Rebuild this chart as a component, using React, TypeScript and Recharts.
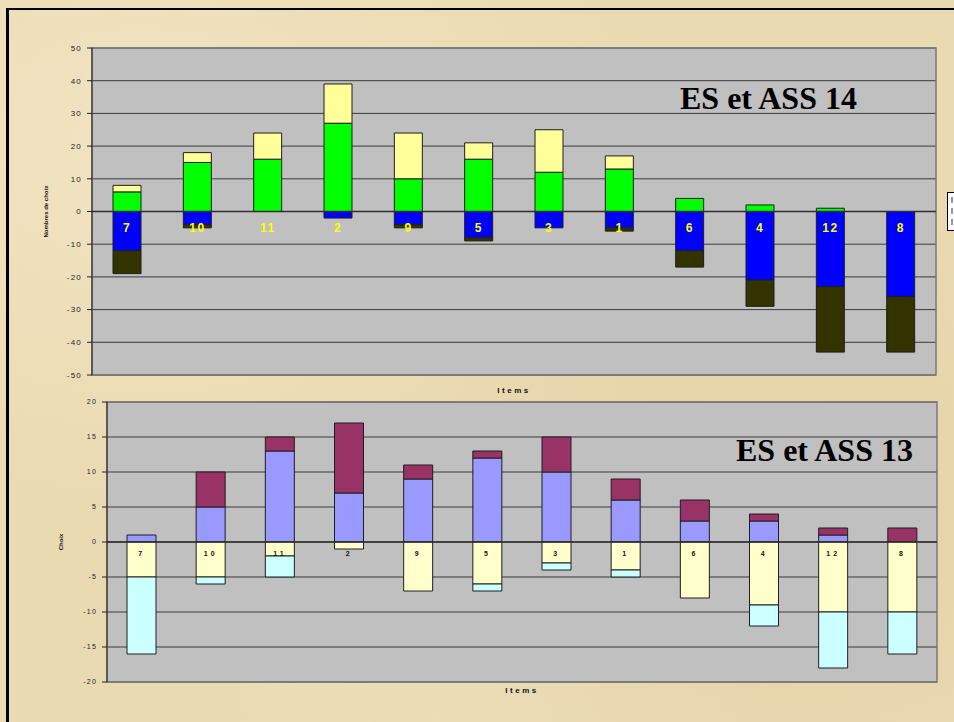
import React from 'react';
import {
  BarChart,
  Bar,
  XAxis,
  YAxis,
  CartesianGrid,
  ReferenceLine,
  ReferenceArea,
  ReferenceDot
} from 'recharts';

const items = ['7', '10', '11', '2', '9', '5', '3', '1', '6', '4', '12', '8'];

// ES et ASS 14
const green14 = [6, 15, 16, 27, 10, 16, 12, 13, 4, 2, 1, 0];
const yellow14 = [2, 3, 8, 12, 14, 5, 13, 4, 0, 0, 0, 0];
const blue14 = [-12, -4, 0, -2, -4, -8, -5, -5, -12, -21, -23, -26];
const dark14 = [-7, -1, 0, 0, -1, -1, 0, -1, -5, -8, -20, -17];
const ticks14 = [-50, -40, -30, -20, -10, 0, 10, 20, 30, 40, 50];

// ES et ASS 13
const lavender13 = [1, 5, 13, 7, 9, 12, 10, 6, 3, 3, 1, 0];
const maroon13 = [0, 5, 2, 10, 2, 1, 5, 3, 3, 1, 1, 2];
const cream13 = [-5, -5, -2, -1, -7, -6, -3, -4, -8, -9, -10, -10];
const cyan13 = [-11, -1, -3, 0, 0, -1, -1, -1, 0, -3, -8, -6];
const ticks13 = [-20, -15, -10, -5, 0, 5, 10, 15, 20];

const data14 = items.map((item, i) => ({
  item,
  green: green14[i],
  yellow: yellow14[i],
  blue: blue14[i],
  dark: dark14[i]
}));

const data13 = items.map((item, i) => ({
  item,
  lavender: lavender13[i],
  maroon: maroon13[i],
  cream: cream13[i],
  cyan: cyan13[i]
}));

const series14 = [
  { key: 'green', color: '#00ff00' },
  { key: 'yellow', color: '#ffff99' },
  { key: 'blue', color: '#0000ff' },
  { key: 'dark', color: '#333300' }
];

const series13 = [
  { key: 'lavender', color: '#9999ff' },
  { key: 'maroon', color: '#993366' },
  { key: 'cream', color: '#ffffcc' },
  { key: 'cyan', color: '#ccffff' }
];

const SANS = '"Liberation Sans", Arial, sans-serif';
const SERIF = '"Liberation Serif", "Times New Roman", serif';
const PAPER = '#eadab2';

interface PanelProps {
  data: any[];
  series: { key: string; color: string }[];
  ticks: number[];
  height: number;
  margin: { top: number; right: number; bottom: number; left: number };
  barSize: number;
  yLabel: string;
  yLabelSize: number;
  tickStyle: { fontSize: number; letterSpacing: number };
  xLabelOffset: number;
  itemLabel: { fill: string; fontSize: number; letterSpacing: number; offset: number };
}

const Panel: React.FC<PanelProps> = ({
  data, series, ticks, height, margin, barSize, yLabel, yLabelSize, tickStyle, xLabelOffset, itemLabel
}) => {
  const lo = ticks[0];
  const hi = ticks[ticks.length - 1];
  return (
    <BarChart width={954} height={height} data={data} margin={margin} stackOffset="sign" barSize={barSize}>
      <CartesianGrid vertical={false} stroke="#3a3a3a" fill="#c0c0c0" fillOpacity={1} />
      <ReferenceArea y1={lo} y2={hi} fill="none" stroke="#7a7a7a" strokeWidth={1.5} />
      <XAxis
        dataKey="item"
        axisLine={false}
        tickLine={false}
        tick={false}
        height={20}
        label={{
          value: 'Items',
          position: 'insideBottom',
          offset: xLabelOffset,
          fill: '#111',
          fontSize: 8,
          fontWeight: 700,
          fontFamily: SANS,
          letterSpacing: 2.5
        }}
      />
      <YAxis
        domain={[lo, hi]}
        ticks={ticks}
        interval={0}
        width={40}
        tickSize={5}
        tickMargin={5}
        axisLine={{ stroke: '#222' }}
        tickLine={{ stroke: '#222' }}
        tick={{ fill: '#222', fontFamily: SANS, ...tickStyle }}
        label={{
          value: yLabel,
          angle: -90,
          position: 'insideLeft',
          offset: -6,
          fill: '#111',
          fontSize: yLabelSize,
          fontWeight: 700,
          fontFamily: SANS,
          style: { textAnchor: 'middle' }
        }}
      />
      {series.map(s => (
        <Bar
          key={s.key}
          dataKey={s.key}
          stackId="s"
          fill={s.color}
          stroke="#1e1e1e"
          strokeWidth={1}
          isAnimationActive={false}
        />
      ))}
      <ReferenceLine y={0} stroke="#2e2e2e" strokeWidth={1.5} />
      {data.map(d => (
        <ReferenceDot
          key={d.item}
          x={d.item}
          y={0}
          r={1}
          fill="none"
          stroke="none"
          label={{
            value: d.item,
            position: 'bottom',
            offset: itemLabel.offset,
            fill: itemLabel.fill,
            fontSize: itemLabel.fontSize,
            fontWeight: 700,
            fontFamily: SANS,
            letterSpacing: itemLabel.letterSpacing
          }}
        />
      ))}
    </BarChart>
  );
};

const titleStyle: React.CSSProperties = {
  position: 'absolute',
  fontFamily: SERIF,
  fontWeight: 700,
  fontSize: 32,
  lineHeight: '32px',
  color: '#000',
  whiteSpace: 'nowrap'
};

export default function App() {
  return (
    <div
      style={{
        position: 'absolute',
        left: 0,
        top: 0,
        width: 954,
        height: 722,
        overflow: 'hidden',
        background: `radial-gradient(ellipse at 15% 20%, rgba(245,232,200,0.7), transparent 45%),
          radial-gradient(ellipse at 80% 70%, rgba(225,205,160,0.6), transparent 50%),
          radial-gradient(ellipse at 50% 95%, rgba(240,225,190,0.6), transparent 40%), ${PAPER}`
      }}
    >
      <div
        style={{
          position: 'absolute',
          left: 6,
          top: 8,
          width: 1000,
          height: 800,
          borderLeft: '3px solid #000',
          borderTop: '2px solid #000'
        }}
      />
      <div style={{ position: 'absolute', left: 0, top: 0 }}>
        <Panel
          data={data14}
          series={series14}
          ticks={ticks14}
          height={400}
          margin={{ top: 48, right: 18, bottom: 5, left: 52 }}
          barSize={28}
          yLabel="Nombres de choix"
          yLabelSize={6}
          tickStyle={{ fontSize: 8, letterSpacing: 1.2 }}
          xLabelOffset={2}
          itemLabel={{ fill: '#ffff00', fontSize: 12, letterSpacing: 1.5, offset: 11 }}
        />
      </div>
      <div style={{ position: 'absolute', left: 0, top: 380 }}>
        <Panel
          data={data13}
          series={series13}
          ticks={ticks13}
          height={330}
          margin={{ top: 22, right: 17, bottom: 8, left: 67 }}
          barSize={29}
          yLabel="Choix"
          yLabelSize={6}
          tickStyle={{ fontSize: 7, letterSpacing: 1.2 }}
          xLabelOffset={9}
          itemLabel={{ fill: '#111', fontSize: 7, letterSpacing: 3, offset: 8 }}
        />
      </div>
      <div style={{ ...titleStyle, left: 680, top: 82 }}>ES et ASS 14</div>
      <div style={{ ...titleStyle, left: 736, top: 434 }}>ES et ASS 13</div>
      <div
        style={{
          position: 'absolute',
          left: 947,
          top: 192,
          width: 12,
          height: 37,
          background: '#fff',
          border: '1px solid #000'
        }}
      >
        <div style={{ position: 'absolute', left: 3, top: 4, height: 28, borderLeft: '2px dashed #999' }} />
      </div>
    </div>
  );
}
